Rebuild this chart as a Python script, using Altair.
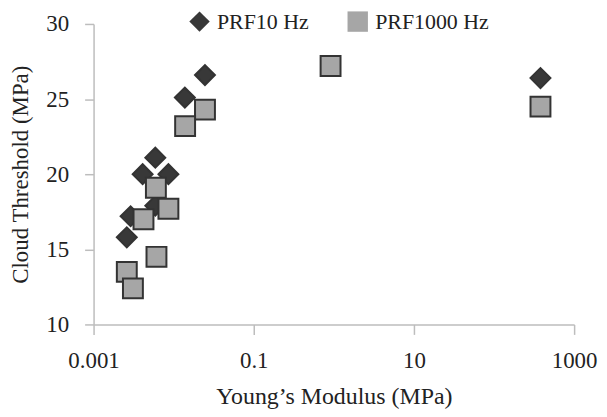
import altair as alt
import pandas as pd

# PRF 10 Hz (diamonds)
e10 = [0.0246, 0.0138, 0.0059, 0.0041, 0.0086, 0.0059, 0.0029, 0.0026, 380]
t10 = [26.6, 25.1, 21.1, 20.0, 20.0, 17.9, 17.2, 15.8, 26.4]
# PRF 1000 Hz (squares)
e1000 = [0.0246, 0.0139, 0.0060, 0.0086, 0.0042, 0.0061, 0.0026, 0.0031, 0.91, 380]
t1000 = [24.3, 23.2, 19.1, 17.7, 17.0, 14.5, 13.5, 12.4, 27.2, 24.5]

series_names = ["PRF10 Hz", "PRF1000 Hz"]
x_ticks = [0.001, 0.1, 10, 1000]
y_ticks = [10, 15, 20, 25, 30]

df = pd.DataFrame(
    {
        "E": e10 + e1000,
        "T": t10 + t1000,
        "series": [series_names[0]] * len(e10) + [series_names[1]] * len(e1000),
        "order": list(range(len(e10) + len(e1000))),
    }
)

FONT = "Liberation Serif"

chart = (
    alt.Chart(df)
    .mark_point(filled=True, opacity=1, size=400, strokeWidth=2)
    .encode(
        x=alt.X(
            "E:Q",
            scale=alt.Scale(type="log", domain=[0.001, 1000], nice=False),
            axis=alt.Axis(
                values=x_ticks,
                format="~g",
                title="Young’s Modulus (MPa)",
                grid=False,
                tickSize=10,
                labelPadding=15,
                titlePadding=12,
                labelFlush=False,
            ),
        ),
        y=alt.Y(
            "T:Q",
            scale=alt.Scale(domain=[10, 30], nice=False, zero=False),
            axis=alt.Axis(
                values=y_ticks,
                title="Cloud Threshold (MPa)",
                grid=False,
                tickSize=9,
                labelPadding=16,
                titlePadding=13,
                titleFontSize=23,
                labelFlush=False,
            ),
        ),
        shape=alt.Shape(
            "series:N",
            scale=alt.Scale(domain=series_names, range=["diamond", "square"]),
            legend=alt.Legend(
                title=None,
                orient="none",
                direction="horizontal",
                legendX=95,
                legendY=-14,
                padding=0,
                symbolSize=420,
                symbolStrokeWidth=2,
                symbolStrokeColor="#333333",
                labelOffset=6,
                columnPadding=34,
                labelFont=FONT,
                labelFontSize=22,
                labelColor="#222222",
            ),
        ),
        fill=alt.Fill(
            "series:N",
            scale=alt.Scale(domain=series_names, range=["#383838", "#a6a6a6"]),
            legend=None,
        ),
        stroke=alt.value("#333333"),
        order="order:Q",
    )
    .properties(
        width=483,
        height=302,
        autosize=alt.AutoSizeParams(type="none"),
        padding={"left": 86, "top": 15, "right": 25, "bottom": 92},
    )
    .configure_view(stroke=None)
    .configure_axis(
        domainColor="#bdbdbd",
        tickColor="#bdbdbd",
        domainWidth=1.5,
        tickWidth=1.5,
        labelFont=FONT,
        titleFont=FONT,
        labelFontSize=23,
        titleFontSize=24,
        titleFontWeight="normal",
        labelColor="#222222",
        titleColor="#222222",
    )
)

chart.save("out.html", embed_options={"renderer": "svg", "actions": False})
